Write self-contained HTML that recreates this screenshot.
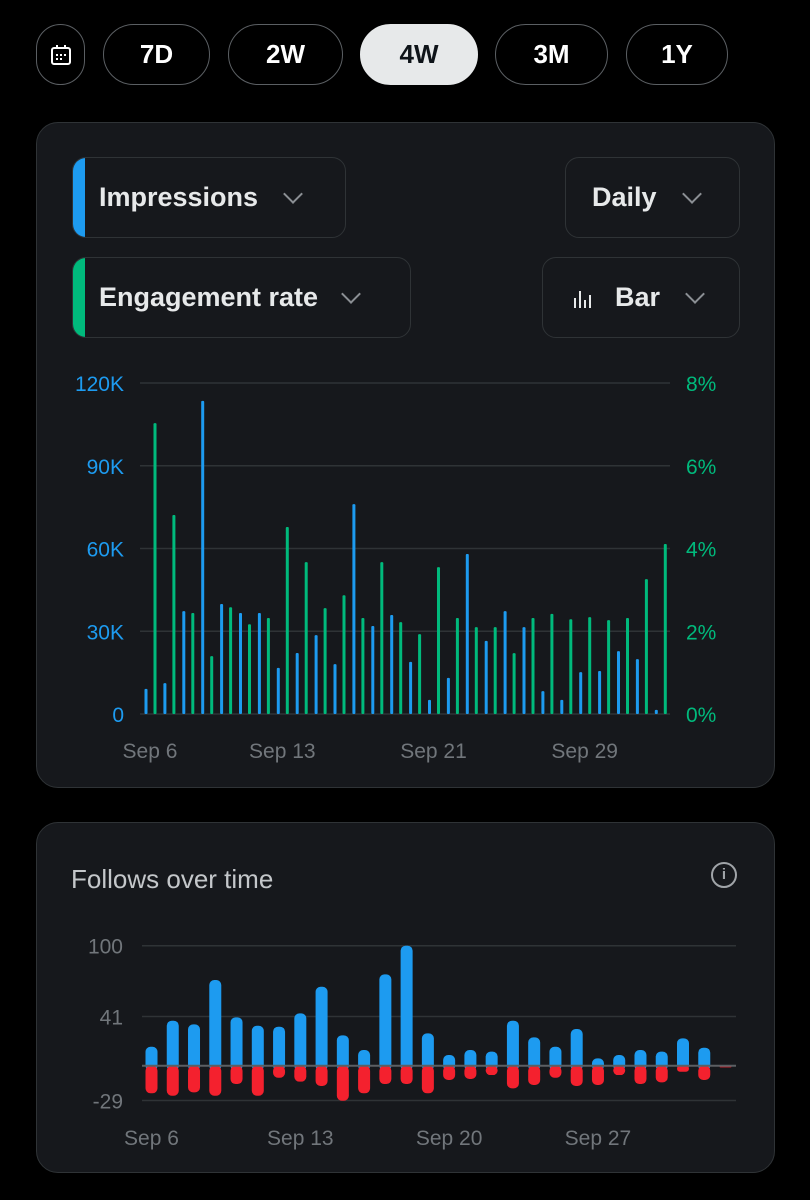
<!DOCTYPE html>
<html><head><meta charset="utf-8"><style>
body{margin:0;width:810px;height:1200px;background:#000;font-family:"Liberation Sans",sans-serif;position:relative;overflow:hidden;color:#e7e9ea}
.pill{position:absolute;top:24px;height:61px;border:1.5px solid #5b5f63;border-radius:32px;box-sizing:border-box;display:flex;align-items:center;justify-content:center;font-weight:bold;font-size:26px;color:#fff}
.card{position:absolute;left:36px;width:739px;background:#16181c;border:1.5px solid #2f3336;border-radius:22px;box-sizing:border-box}
.dd{position:absolute;height:81px;border:1.5px solid #2f3336;border-radius:14px;box-sizing:border-box;display:flex;align-items:center;font-weight:bold;font-size:27px;color:#e7e9ea;overflow:hidden}
.chev{display:inline-block;width:12px;height:12px;border-right:2px solid #8b8f94;border-bottom:2px solid #8b8f94;transform:rotate(45deg);margin-top:-8px}
svg text{font-family:"Liberation Sans",sans-serif}
</style></head><body>
<div class="pill" style="left:36px;width:49px">
<svg width="24" height="24" viewBox="0 0 24 24"><rect x="3" y="5" width="18" height="16" rx="2" fill="none" stroke="#fff" stroke-width="2"/><line x1="8" y1="2" x2="8" y2="6" stroke="#fff" stroke-width="2"/><line x1="16" y1="2" x2="16" y2="6" stroke="#fff" stroke-width="2"/><rect x="7" y="11" width="2" height="2" fill="#fff"/><rect x="11" y="11" width="2" height="2" fill="#fff"/><rect x="15" y="11" width="2" height="2" fill="#fff"/><rect x="7" y="15" width="2" height="2" fill="#fff"/><rect x="11" y="15" width="2" height="2" fill="#fff"/></svg></div>
<div class="pill" style="left:103px;width:107px">7D</div>
<div class="pill" style="left:228px;width:115px">2W</div>
<div class="pill" style="left:360px;width:118px;background:#e7e9ea;color:#0f1419;border-color:#e7e9ea">4W</div>
<div class="pill" style="left:495px;width:113px">3M</div>
<div class="pill" style="left:626px;width:102px">1Y</div>

<div class="card" style="top:122px;height:666px"></div>
<div class="dd" style="left:72px;top:157px;width:274px"><div style="width:12px;height:100%;background:#1d9bf0"></div><span style="margin-left:14px">Impressions</span><span class="chev" style="margin-left:28px"></span></div>
<div class="dd" style="left:565px;top:157px;width:175px"><span style="margin-left:26px">Daily</span><span class="chev" style="margin-left:28px"></span></div>
<div class="dd" style="left:72px;top:257px;width:339px"><div style="width:12px;height:100%;background:#00ba7c"></div><span style="margin-left:14px">Engagement rate</span><span class="chev" style="margin-left:26px"></span></div>
<div class="dd" style="left:542px;top:257px;width:198px"><svg style="margin-left:30px" width="22" height="20"><rect x="1" y="10" width="2" height="10" fill="#e7e9ea"/><rect x="6" y="3" width="2" height="17" fill="#e7e9ea"/><rect x="11" y="12" width="2" height="8" fill="#e7e9ea"/><rect x="16" y="7" width="2" height="13" fill="#e7e9ea"/></svg><span style="margin-left:20px">Bar</span><span class="chev" style="margin-left:28px"></span></div>

<svg id="top" width="810" height="790" style="position:absolute;left:0;top:0"></svg>

<div class="card" style="top:822px;height:351px"></div>
<div style="position:absolute;left:71px;top:864px;font-size:26px;color:#c4c7ca">Follows over time</div>
<div style="position:absolute;left:711px;top:862px;width:22px;height:22px;border:2px solid #a0a4a8;border-radius:50%;color:#a0a4a8;font-size:15px;font-weight:bold;text-align:center;line-height:22px">i</div>
<svg id="bot" width="810" height="1200" style="position:absolute;left:0;top:0"></svg>

<script>
const topLabels=["Sep 6","Sep 13","Sep 21","Sep 29"];
const topLabelIdx=[0,7,15,23];
const impressions=[9.1,11.2,37.3,113.5,39.9,36.6,36.6,16.7,22.1,28.6,18.1,76.1,31.9,35.9,18.9,5.1,13.1,58,26.5,37.3,31.5,8.3,5.1,15.2,15.6,22.8,19.9,1.5];
const engagement=[7.03,4.81,2.44,1.40,2.58,2.17,2.32,4.52,3.67,2.56,2.87,2.32,3.67,2.22,1.93,3.55,2.32,2.10,2.10,1.47,2.32,2.42,2.29,2.34,2.27,2.32,3.26,4.11];
const leftTicks=[0,30,60,90,120];
const leftTickLabels=["0","30K","60K","90K","120K"];
const rightTicks=[0,2,4,6,8];
const rightTickLabels=["0%","2%","4%","6%","8%"];

const gained=[15.8,37.5,34.4,71.4,40.3,33.3,32.5,43.6,65.8,25.3,13.1,76.1,100,26.9,8.9,13.1,11.7,37.5,23.6,15.8,30.6,6.1,8.9,13.1,11.7,22.8,15,0];
const lost=[23,25,22.2,25,15.3,25,10,13.3,16.9,29.2,23,15.3,15.3,23,11.9,11.1,7.8,18.9,16.1,10,16.9,16.1,7.8,15.3,13.9,5,11.9,1.4];
const botTicks=[100,41,-29];
const botLabels=["Sep 6","Sep 13","Sep 20","Sep 27"];
const botLabelIdx=[0,7,14,21];

const NS="http://www.w3.org/2000/svg";
function mk(svg,tag,a){const e=document.createElementNS(NS,tag);for(const k in a)e.setAttribute(k,a[k]);svg.appendChild(e);return e;}

// top chart
const T=document.getElementById('top');
const y0=714,yTop=383;
const yL=v=>y0-(v/120)*(y0-yTop);
const yR=v=>y0-(v/8)*(y0-yTop);
const xB=i=>146+18.9*i;
leftTicks.forEach((v,i)=>{
  const g=mk(T,'line',{x1:140,x2:670,y1:yL(v),y2:yL(v),stroke:'#2f3336','stroke-width':1.5});
  
  const t=mk(T,'text',{x:124,y:yL(v)+8,'text-anchor':'end','font-size':21,fill:'#1d9bf0'});t.textContent=leftTickLabels[i];
  
});
rightTicks.forEach((v,i)=>{
  const t=mk(T,'text',{x:686,y:yR(v)+8,'font-size':21,fill:'#00ba7c'});t.textContent=rightTickLabels[i];
  
});
impressions.forEach((v,i)=>{
  const r=mk(T,'rect',{x:xB(i)-1.5,y:yL(v),width:3,height:y0-yL(v),fill:'#1d9bf0',rx:1});
  
});
engagement.forEach((v,i)=>{
  const r=mk(T,'rect',{x:xB(i)+9-1.5,y:yR(v),width:3,height:y0-yR(v),fill:'#00ba7c',rx:1});
  
});
topLabels.forEach((s,i)=>{
  const t=mk(T,'text',{x:xB(topLabelIdx[i])+4,y:758,'text-anchor':'middle','font-size':21,fill:'#71767b'});t.textContent=s;
  
});

// bottom chart
const B=document.getElementById('bot');
const z=1065.7,k=1.2;
const yb=v=>z-v*k;
const xb=i=>151.5+21.26*i;
botTicks.forEach(v=>{
  const g=mk(B,'line',{x1:142,x2:736,y1:yb(v),y2:yb(v),stroke:'#2f3336','stroke-width':1.5});
  
  const t=mk(B,'text',{x:123,y:yb(v)+8,'text-anchor':'end','font-size':21,fill:'#71767b'});t.textContent=String(v);
  
});
gained.forEach((v,i)=>{
  if(v<=0)return;
  const r=mk(B,'rect',{x:xb(i)-6,y:yb(v),width:12,height:v*k+5,fill:'#1d9bf0',rx:5});
  
});
lost.forEach((v,i)=>{
  const r=mk(B,'rect',{x:xb(i)-6,y:z,width:12,height:v*k,fill:'#f4212e',rx:Math.min(5,v*k/2)});
  
});
const zl=mk(B,'line',{x1:142,x2:736,y1:z,y2:z,stroke:'#5b5f63','stroke-width':2});

botLabels.forEach((s,i)=>{
  const t=mk(B,'text',{x:xb(botLabelIdx[i]),y:1145,'text-anchor':'middle','font-size':21,fill:'#71767b'});t.textContent=s;
  
});
</script>
</body></html>
